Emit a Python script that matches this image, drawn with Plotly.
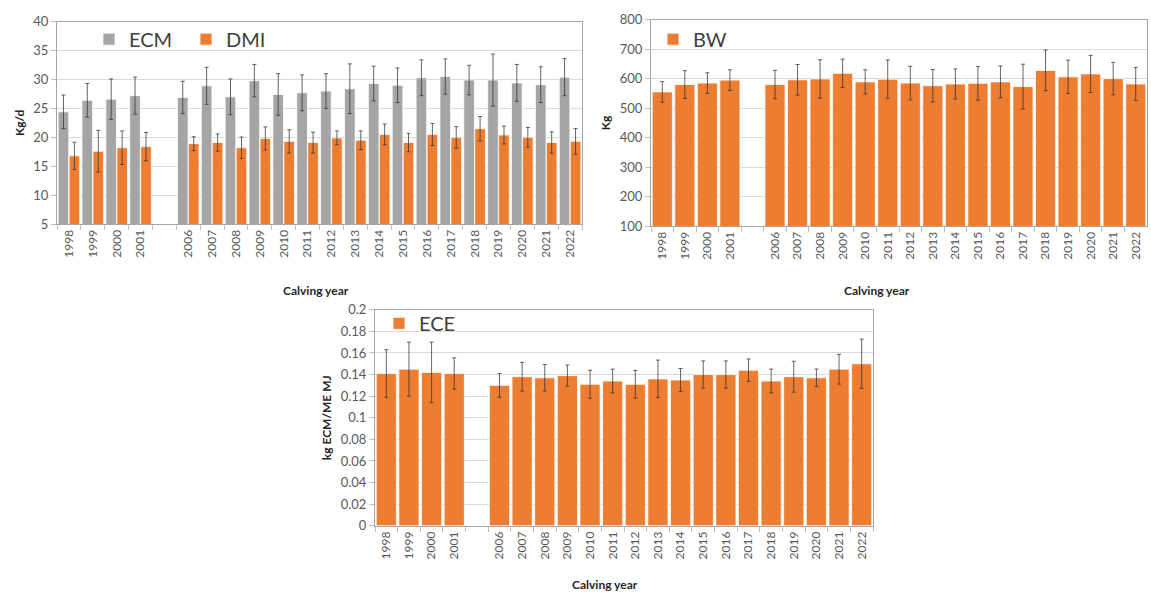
import plotly.graph_objects as go

# Calving years; the blank entry keeps the empty slot between 2001 and 2006
years = ["1998", "1999", "2000", "2001", " ", "2006", "2007", "2008", "2009", "2010",
         "2011", "2012", "2013", "2014", "2015", "2016", "2017", "2018", "2019",
         "2020", "2021", "2022"]

# Energy-corrected milk (kg/d)
ecm = [24.4, 26.4, 26.6, 27.2, None, 26.9, 28.9, 27.0, 29.8, 27.4,
       27.7, 28.0, 28.4, 29.3, 29.0, 30.3, 30.5, 29.9, 29.9, 29.4, 29.1, 30.4]
ecm_sd = [2.9, 2.9, 3.5, 3.2, None, 2.8, 3.2, 3.1, 2.8, 3.6,
          3.1, 3.0, 4.3, 3.0, 3.0, 3.1, 3.05, 2.55, 4.5, 3.2, 3.1, 3.2]

# Dry matter intake (kg/d)
dmi = [16.8, 17.6, 18.2, 18.4, None, 18.9, 19.1, 18.2, 19.8, 19.3,
       19.1, 19.9, 19.5, 20.5, 19.1, 20.5, 20.0, 21.5, 20.4, 20.0, 19.1, 19.3]
dmi_sd = [2.35, 3.6, 2.9, 2.45, None, 1.2, 1.5, 1.85, 2.0, 2.0,
          1.8, 1.2, 1.6, 1.8, 1.6, 1.9, 1.85, 2.1, 1.55, 1.7, 1.85, 2.2]

# Body weight (kg)
bw = [555, 580, 585, 595, None, 580, 596, 599, 618, 589,
      598, 585, 576, 582, 584, 589, 573, 628, 606, 616, 600, 582]
bw_sd = [35, 47, 35, 35, None, 48, 52, 65, 48, 41,
         65, 57, 55, 51, 57, 54, 76, 69, 57, 63, 55, 56]

# Energy conversion efficiency (kg ECM / MJ ME)
ece = [0.141, 0.145, 0.142, 0.141, None, 0.130, 0.138, 0.137, 0.139, 0.131,
       0.134, 0.131, 0.136, 0.135, 0.140, 0.140, 0.144, 0.134, 0.138, 0.137, 0.145, 0.150]
ece_sd = [0.022, 0.025, 0.028, 0.0145, None, 0.011, 0.0133, 0.0123, 0.0098, 0.013,
          0.011, 0.0128, 0.0174, 0.0106, 0.0126, 0.0126, 0.0104, 0.011, 0.0143, 0.0081, 0.0138, 0.0228]

GREY = "#A5A5A5"
ORANGE = "#ED7D31"
TEXT = "#595959"
FONT = "Lato"

W, H = 1151, 600


def err(vals):
    return dict(type="data", array=vals, visible=True, color="rgba(50,50,50,0.75)",
                thickness=1, width=2)


def bar(name, y, sd, color, xa, ya, legend, **kw):
    return go.Bar(name=name, x=years, y=y, error_y=err(sd), marker=dict(
        color=color, line=dict(color="white", width=0.8)),
        xaxis=xa, yaxis=ya, legend=legend, **kw)


fig = go.Figure()
fig.add_trace(bar("ECM", ecm, ecm_sd, GREY, "x", "y", "legend", offsetgroup="a"))
fig.add_trace(bar("DMI", dmi, dmi_sd, ORANGE, "x", "y", "legend", offsetgroup="b"))
fig.add_trace(bar("BW", bw, bw_sd, ORANGE, "x2", "y2", "legend2"))
fig.add_trace(bar("ECE", ece, ece_sd, ORANGE, "x3", "y3", "legend3"))


def px_x(p):
    return p / W


def px_y(p):
    return 1 - p / H


FRAME = "#A6A6A6"


def xaxis(left, right, anchor):
    return dict(domain=[px_x(left), px_x(right)], anchor=anchor, type="category",
                categoryorder="array", categoryarray=years,
                tickangle=-90, tickfont=dict(family=FONT, size=12, color=TEXT),
                ticks="outside", ticklen=5, tickcolor="#BFBFBF", tickson="boundaries",
                showline=True, linecolor=FRAME, linewidth=1, mirror=True,
                showgrid=False, zeroline=False, fixedrange=True)


def yaxis(bottom, top, anchor, rng, dtick, title):
    return dict(domain=[px_y(bottom), px_y(top)], anchor=anchor, range=rng, dtick=dtick,
                tickfont=dict(family=FONT, size=13, color=TEXT),
                ticks="outside", ticklen=5, tickcolor="#BFBFBF",
                showline=True, linecolor=FRAME, linewidth=1, mirror=True,
                showgrid=True, gridcolor="#D9D9D9", gridwidth=1, zeroline=False,
                title=dict(text=title, font=dict(family=FONT, size=12, color="#262626"),
                           standoff=6),
                fixedrange=True)


legend_style = dict(orientation="h", bgcolor="rgba(0,0,0,0)", xanchor="left",
                    yanchor="middle", font=dict(family=FONT, size=20, color="#404040"),
                    itemclick=False, itemdoubleclick=False)

fig.update_layout(
    width=W, height=H,
    margin=dict(l=0, r=0, t=0, b=0),
    paper_bgcolor="white", plot_bgcolor="white",
    barmode="group", bargap=0.08, bargroupgap=0.03,
    showlegend=True,
    xaxis=xaxis(57, 582, "y"),
    yaxis=yaxis(222, 14, "x", [5, 40], 5, "<b>Kg/d</b>"),
    xaxis2=xaxis(651, 1147, "y2"),
    yaxis2=yaxis(224, 12, "x2", [100, 800], 100, "<b>Kg</b>"),
    xaxis3=xaxis(375, 873, "y3"),
    yaxis3=yaxis(532, 310, "x3", [0, 0.2], 0.02, "<b>kg ECM/ME MJ</b>"),
    legend=dict(x=px_x(89), y=px_y(32), entrywidth=52, **legend_style),
    legend2=dict(x=px_x(653), y=px_y(32), **legend_style),
    legend3=dict(x=px_x(379), y=px_y(324), **legend_style),
)

# "Calving year" captions under each panel
for cx, cy in [(316, 290), (877, 290), (605, 592)]:
    fig.add_annotation(text="<b>Calving year</b>", x=px_x(cx), y=px_y(cy),
                       xref="paper", yref="paper", xanchor="center", yanchor="middle",
                       showarrow=False,
                       font=dict(family=FONT, size=12, color="#262626"))

fig.write_html("out.html")
